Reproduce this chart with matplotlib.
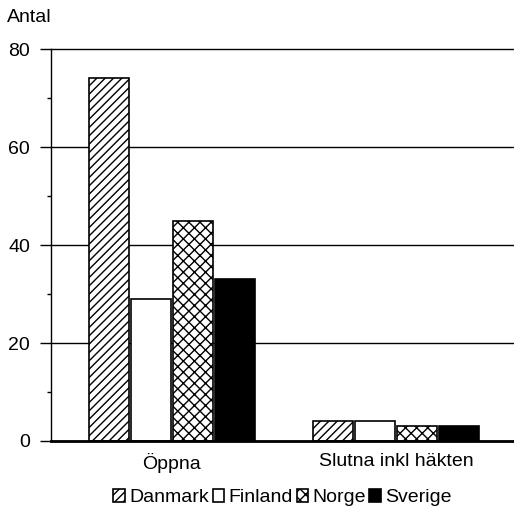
import matplotlib.pyplot as plt
from matplotlib.ticker import MultipleLocator
import numpy as np

plt.rcParams["font.family"] = ["Liberation Sans", "DejaVu Sans"]
plt.rcParams["hatch.linewidth"] = 1.0

# Data
categories = ["Öppna", "Slutna inkl häkten"]
countries = ["Danmark", "Finland", "Norge", "Sverige"]
danmark = [74, 4]
finland = [29, 4]
norge = [45, 3]
sverige = [33, 3]
values = [danmark, finland, norge, sverige]

# Utseende per land
facecolors = ["white", "white", "white", "black"]
hatches = ["////", "", "xxx", ""]

fig = plt.figure(figsize=(5.14, 5.08), dpi=100)
ax = fig.add_axes([0.0992, 0.1319, 0.9008, 0.7716])

x = np.arange(len(categories))
width = 0.178
step = 0.1875
for i, country in enumerate(countries):
    ax.bar(x + (i - 1.5) * step, values[i], width=width, color=facecolors[i],
           edgecolor="black", linewidth=1.2, hatch=hatches[i], label=country, zorder=3)

ax.set_xlim(-0.54, 1.527)
ax.set_ylim(0, 80)
ax.yaxis.set_major_locator(MultipleLocator(20))
ax.yaxis.set_minor_locator(MultipleLocator(10))
ax.set_xticks(x)
ax.set_xticklabels(categories, fontsize=14)
ax.tick_params(axis="x", length=0, pad=9)
ax.tick_params(axis="y", which="major", length=8, width=1, labelsize=14, pad=7)
ax.tick_params(axis="y", which="minor", length=3, width=1)

ax.grid(axis="y", color="black", linewidth=1, zorder=0)
for line in ax.get_ygridlines():
    line.set_clip_on(False)
ax.set_axisbelow(True)

for s in ["top", "right"]:
    ax.spines[s].set_visible(False)
ax.spines["left"].set_linewidth(1)
ax.spines["bottom"].set_linewidth(2)
ax.spines["bottom"].set_zorder(4)

fig.text(0.014, 0.966, "Antal", fontsize=14, va="center", ha="left")

ax.legend(loc="center", bbox_to_anchor=(0.5, -0.145), ncol=4, frameon=False,
          fontsize=14, handlelength=0.6, handleheight=0.6, handletextpad=0.2,
          columnspacing=0.2, borderaxespad=0)

fig.savefig("out.png", dpi=100)
